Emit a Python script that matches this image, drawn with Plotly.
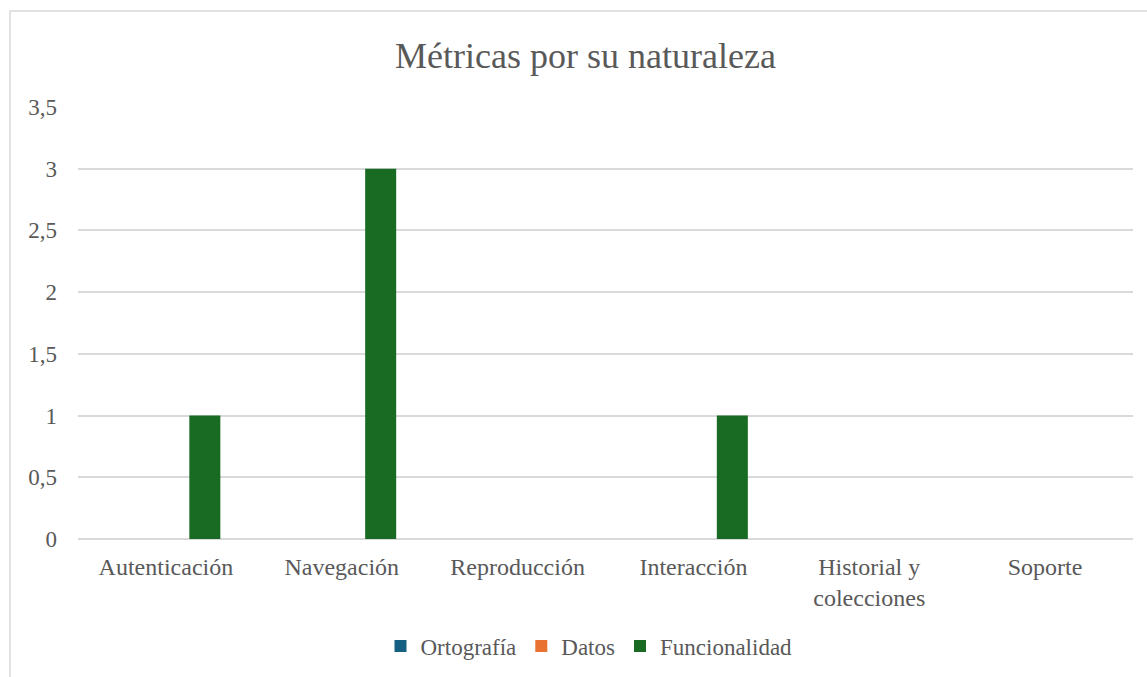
import plotly.graph_objects as go

# Categories and series values
categorias = ["Autenticación", "Navegación", "Reproducción", "Interacción",
              "Historial y<br>colecciones", "Soporte"]
ortografia = [0, 0, 0, 0, 0, 0]
datos = [0, 0, 0, 0, 0, 0]
funcionalidad = [1, 3, 0, 1, 0, 0]

series = [
    ("Ortografía", ortografia, "#156082"),
    ("Datos", datos, "#E97132"),
    ("Funcionalidad", funcionalidad, "#196B24"),
]

W, H = 1147, 677
ML, MR, MT, MB = 78, 14, 107, 138
TEXT = "#595959"
GRID = "#D9D9D9"
FONT = "Liberation Serif, Times New Roman, serif"

fig = go.Figure()
for nombre, valores, color in series:
    fig.add_trace(go.Bar(x=categorias, y=valores, name=nombre,
                         marker=dict(color=color, line=dict(width=0))))

pw = W - ML - MR
ph = H - MT - MB

fig.update_layout(
    width=W, height=H,
    margin=dict(l=ML, r=MR, t=MT, b=MB, pad=0),
    paper_bgcolor="white", plot_bgcolor="white",
    font=dict(family=FONT, color=TEXT, size=24),
    barmode="group", bargap=0.336, bargroupgap=0.203,
    title=dict(text="Métricas por su naturaleza", xref="container", yref="container",
               x=585.5 / W, y=1 - 55 / H, xanchor="center", yanchor="middle",
               font=dict(family=FONT, size=36, color=TEXT)),
    legend=dict(orientation="h", xref="container", yref="container",
                x=589 / W, y=1 - 646 / H, xanchor="center", yanchor="middle",
                font=dict(family=FONT, size=23, color=TEXT),
                itemwidth=30, traceorder="normal"),
    showlegend=True,
    xaxis=dict(showgrid=False, showline=False, zeroline=False, ticks="",
               tickfont=dict(family=FONT, size=24, color=TEXT),
               ticklabelstandoff=11),
    yaxis=dict(range=[0, 3.5], dtick=0.5, tick0=0, showgrid=True, gridcolor=GRID,
               gridwidth=1.5, zeroline=True, zerolinecolor=GRID, zerolinewidth=1.5,
               showline=False, ticks="",
               tickformat=",.1~f", ticklabelstandoff=20,
               tickfont=dict(family=FONT, size=23, color=TEXT)),
    separators=", ",
    shapes=[dict(type="rect", xref="paper", yref="paper",
                 x0=(10 - ML) / pw, x1=(W + 20 - ML) / pw,
                 y0=-(H + 20 - MT - ph) / ph, y1=1 + (MT - 11) / ph,
                 line=dict(color=GRID, width=1.5), fillcolor="rgba(0,0,0,0)",
                 layer="below")],
)

fig.write_html("out.html")
